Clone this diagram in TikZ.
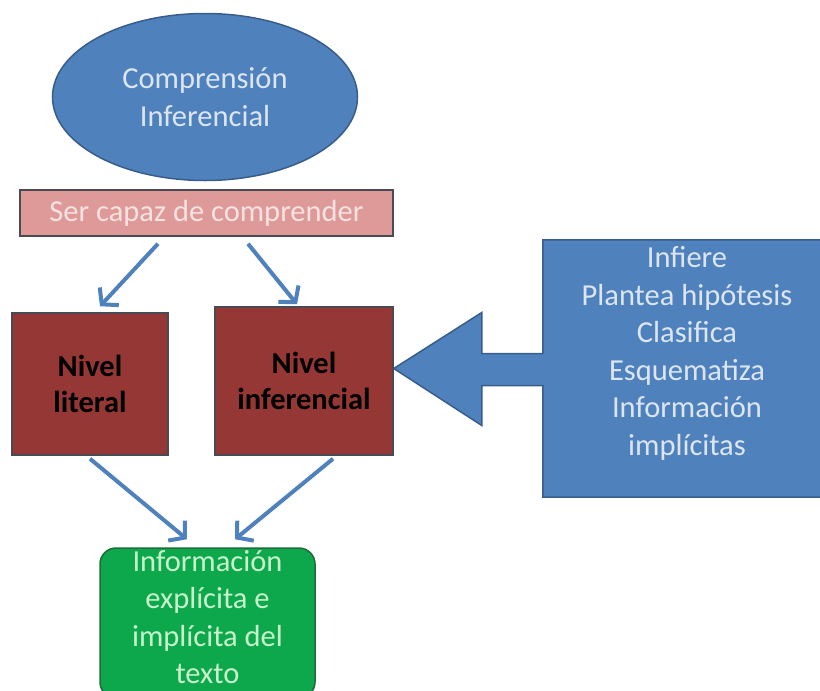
\documentclass[tikz,border=0pt]{standalone}
\usepackage{fontspec}
\setmainfont{Carlito}
\usetikzlibrary{shapes.geometric, arrows.meta, positioning, backgrounds, calc}
\definecolor{OffBlue}{HTML}{4F81BD}
\definecolor{OffBlueDark}{HTML}{385D8A}
\definecolor{OffBlueTxt}{HTML}{DCE6F2}
\definecolor{PinkFill}{HTML}{DE9A99}
\definecolor{PinkTxt}{HTML}{F6E2E1}
\definecolor{RedFill}{HTML}{953735}
\definecolor{GreyLine}{HTML}{4A4A55}
\definecolor{GreenFill}{HTML}{0DA84C}
\definecolor{GreenDark}{HTML}{1F6B3A}
\definecolor{GreenTxt}{HTML}{C8F2CC}

\begin{document}
\begin{tikzpicture}[
      x=1pt, y=-1pt,
      font=\fontsize{30.5}{37.5}\selectfont,
      topic/.style={ellipse, draw=OffBlueDark, fill=OffBlue, line width=1.5pt,
                    minimum width=305pt, minimum height=167pt, inner sep=0pt,
                    align=center, text=OffBlueTxt},
      bar/.style={draw=GreyLine, fill=PinkFill, line width=1.5pt,
                  minimum width=373pt, minimum height=46pt, inner sep=0pt, text=PinkTxt},
      level/.style={draw=GreyLine, fill=RedFill, line width=1.5pt, inner sep=0pt,
                    align=center, font=\fontsize{30.5}{36}\selectfont\bfseries, text=black},
      result/.style={draw=GreenDark, fill=GreenFill, rounded corners=16pt, line width=1.5pt,
                     minimum width=215pt, minimum height=150pt, inner sep=0pt},
      restxt/.style={align=center, text=GreenTxt, font=\fontsize{30.5}{37.5}\selectfont},
      calltxt/.style={align=center, text=OffBlueTxt},
      link/.style={-{Straight Barb[length=11pt, width=26pt]}, line width=4pt, OffBlue}
    ]
    \useasboundingbox (0,0) rectangle (820,691);

    \node[topic]                                  (ci)  at (205,97)  {Comprensión\\Inferencial};
    \node[bar]                                    (ser) at (206.5,213) {Ser capaz de comprender};
    \node[level, minimum width=156pt, minimum height=142pt] (lit) at (90,384)  {Nivel\\literal};
    \node[level, minimum width=178pt, minimum height=148pt] (inf) at (304,381) {Nivel\\inferencial};

    \node[result]                                 (info) at (207.5,623) {};
    \node[restxt]                                 (infotxt) at (207.5,617)
      {Información\\explícita e\\implícita del\\texto};

    % caja de llamada con flecha hacia el nivel inferencial
    \node[minimum width=287pt, minimum height=257pt, inner sep=0pt] (co) at (686.5,368.5) {};
    \node[calltxt]                                (cotxt) at (687,353.5)
      {Infiere\\Plantea hipótesis\\Clasifica\\Esquematiza\\Información\\implícitas};
    \begin{scope}[on background layer]
      \filldraw[draw=OffBlueDark, fill=OffBlue, line width=1.5pt, line join=miter]
        (co.north west) -- (co.north east) -- (co.south east) -- (co.south west)
        -- ($(co.west)+(0,17)$) -- ($(co.west)+(-61,17)$) -- ($(co.west)+(-61,57)$)
        -- (inf.east |- co.west)
        -- ($(co.west)+(-61,-56)$) -- ($(co.west)+(-61,-15)$) -- ($(co.west)+(0,-15)$)
        -- cycle;
    \end{scope}

    \draw[link] ([shift={(-48.5,7)}]ser.south) -- ([shift={(10,-6)}]lit.north);
    \draw[link] ([shift={(41.5,7)}]ser.south)  -- ([shift={(-7,-2)}]inf.north);
    \draw[link] ([shift={(0,3)}]lit.south)     -- ([shift={(-20.5,-8)}]info.north);
    \draw[link] ([shift={(29,3)}]inf.south)    -- ([shift={(27.5,-8)}]info.north);

  \end{tikzpicture}
\end{document}
